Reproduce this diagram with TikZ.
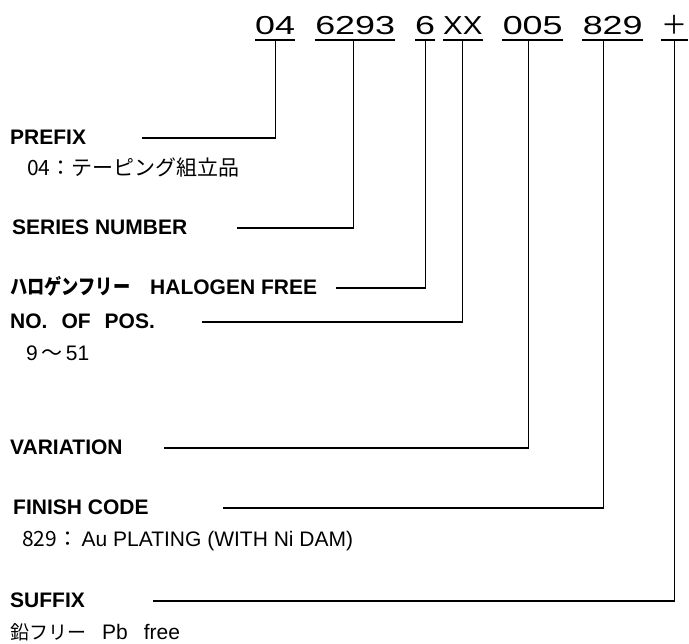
\documentclass[tikz,border=0pt]{standalone}
\usepackage{fontspec}
\setmainfont{Liberation Sans}
\newfontfamily\jpfont{Noto Sans CJK JP}
\newfontfamily\codefont[FakeStretch=1.38]{Liberation Sans}
\newcommand{\lead}[3]{
\coordinate (#1) at (#2, #3)
}
\begin{document}
\begin{tikzpicture}[x = 1pt, y = -1pt,
	head/.style = {font = \fontsize{21}{25}\selectfont\bfseries, inner sep = 0pt, anchor = base west},
	note/.style = {font = \fontsize{21}{25}\selectfont, inner sep = 0pt, anchor = base west},
	code/.style = {font = \codefont\fontsize{26}{30}\selectfont, inner xsep = 0pt, inner ysep = 5pt,
		text height = 19pt, text depth = 0pt, anchor = south west},
	wire/.style = {line width = 1.1pt}]
\useasboundingbox (0,0) rectangle (689,644);
% part number, one underlined group each
\foreach \nm/\xx/\ww/\tx in {c04/255/40/04, c6293/315/80/6293, c6/415/18/6, cXX/443/39/{\scalebox{0.82}[1]{XX}},
	c005/502/61/005, c829/582/61/829, cplus/661/27/{\jpfont ＋}}
	{\node [code, minimum width = \ww pt] (\nm) at (\xx, 40) {\tx};
	 \draw [wire] (\nm.south west) -- (\nm.south east);}

\node [head] (pfx) at (10,145) {PREFIX};
\node [note] (pfx-sub) at (27,176) {\jpfont 04：テーピング組立品};
\node [head] (ser) at (12,235) {SERIES NUMBER};
\node [head] (hal) at (10,295) {\scalebox{0.82}[1]{\jpfont ハロゲンフリー}\hspace{20pt}HALOGEN FREE};
\node [head] (pos) at (10,329) {NO.\hspace{14pt}OF\hspace{14pt}POS.};
\node [note] (pos-sub) at (26,361) {9\,{\jpfont ～}\,51};
\node [head] (var) at (10,455) {VARIATION};
\node [head] (fin) at (13,515) {FINISH CODE};
\node [note] (fin-sub) at (22,547) {{\jpfont 829：}\,Au PLATING (WITH Ni DAM)};
\node [head] (suf) at (10,608) {SUFFIX};
\node [note] (suf-sub) at (10,639) {{\jpfont\fontsize{19}{23}\selectfont 鉛フリー}\hspace{16pt}Pb\hspace{16pt}free};

\lead{pfx-in}{142}{138};
\lead{ser-in}{237}{228};
\lead{hal-in}{336}{288};
\lead{pos-in}{202}{322};
\lead{var-in}{164}{448};
\lead{fin-in}{223}{508};
\lead{suf-in}{153}{601};

\draw [wire] (pfx-in) -| (c04.south);
\draw [wire] (ser-in) -| ([xshift=-2pt]c6293.south);
\draw [wire] (hal-in) -| (c6.south);
\draw [wire] (pos-in) -| (cXX.south);
\draw [wire] (var-in) -| ([xshift=-4.5pt]c005.south);
\draw [wire] (fin-in) -| ([xshift=-9.5pt]c829.south);
\draw [wire] (suf-in) -| (cplus.south);
\end{tikzpicture}
\end{document}
